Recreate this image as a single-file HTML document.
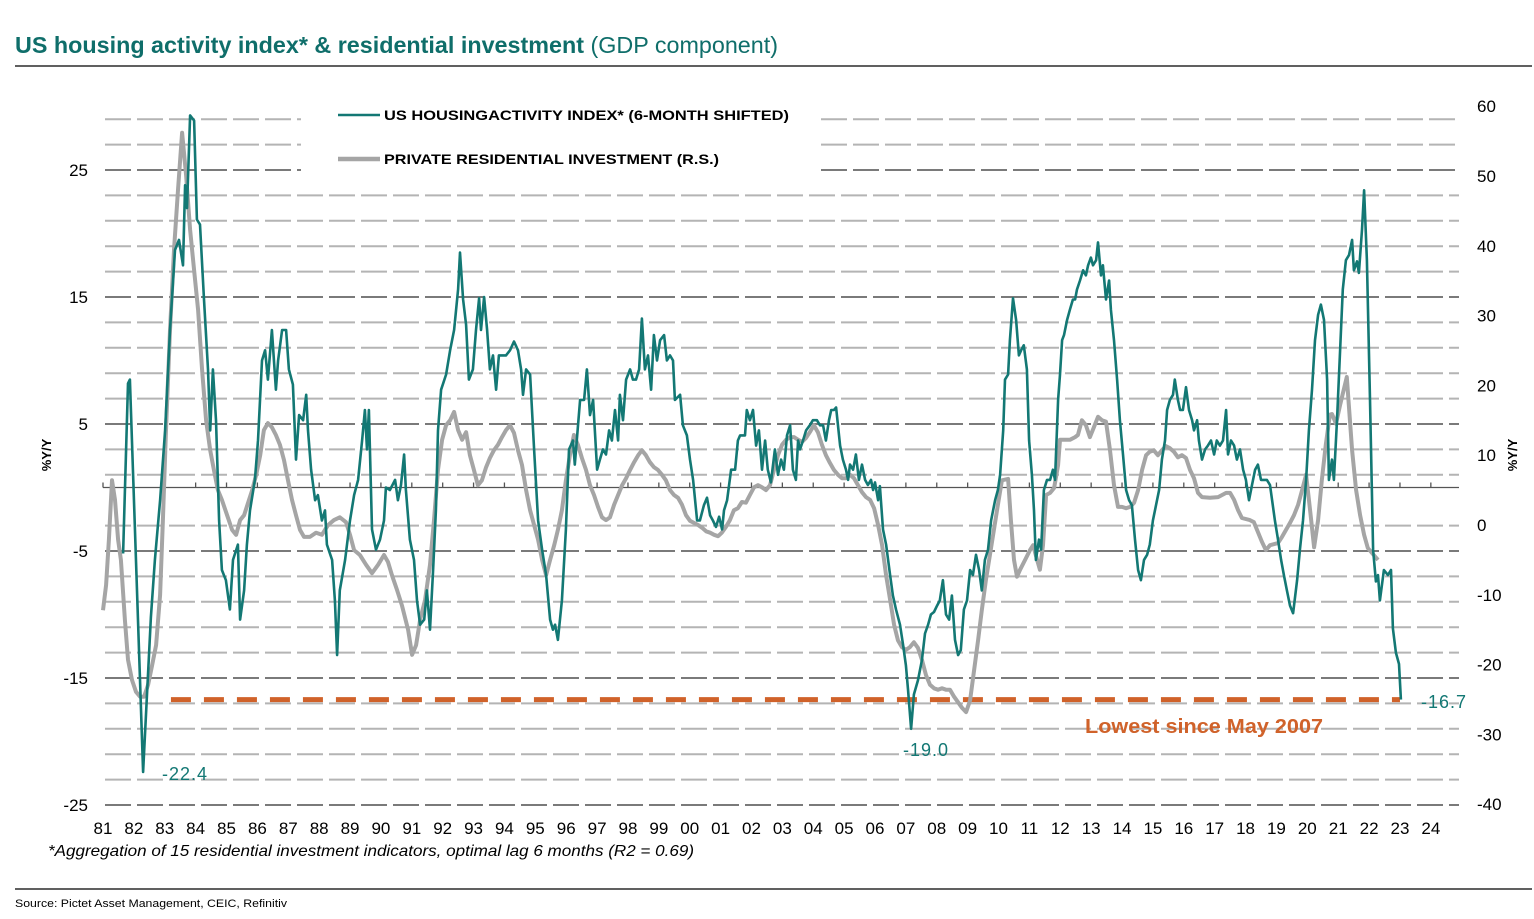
<!DOCTYPE html>
<html><head><meta charset="utf-8"><style>
html,body{margin:0;padding:0;background:#fff;}
svg{display:block;font-family:"Liberation Sans",sans-serif;}
</style></head><body>
<svg id="chart" width="1534" height="919" viewBox="0 0 1534 919" xmlns="http://www.w3.org/2000/svg">
<text x="15" y="53" font-size="23" fill="#0f6e6a" textLength="763" lengthAdjust="spacingAndGlyphs"><tspan font-weight="bold">US housing activity index* &amp; residential investment</tspan> (GDP component)</text>
<line x1="15" y1="66" x2="1532" y2="66" stroke="#000" stroke-width="1.2"/>
<g id="grid"></g>
<g id="axes"></g>
<g id="series"></g>
<g>
<line x1="338" y1="115" x2="380" y2="115" stroke="#137874" stroke-width="2.5"/>
<text x="384" y="120" font-size="14" font-weight="bold" fill="#000" textLength="405" lengthAdjust="spacingAndGlyphs">US HOUSINGACTIVITY INDEX* (6-MONTH SHIFTED)</text>
<line x1="338" y1="159" x2="380" y2="159" stroke="#a5a5a5" stroke-width="4.5"/>
<text x="384" y="164" font-size="14" font-weight="bold" fill="#000" textLength="335" lengthAdjust="spacingAndGlyphs">PRIVATE RESIDENTIAL INVESTMENT (R.S.)</text>
</g>
<text transform="translate(51,455) rotate(-90)" font-size="13" font-weight="bold" text-anchor="middle">%Y/Y</text>
<text transform="translate(1517,455) rotate(-90)" font-size="13" font-weight="bold" text-anchor="middle">%Y/Y</text>
<text x="162" y="780" font-size="18" fill="#137874" letter-spacing="1">-22.4</text>
<text x="903" y="756" font-size="18" fill="#137874" letter-spacing="1">-19.0</text>
<text x="1421" y="708" font-size="18" fill="#137874" letter-spacing="1">-16.7</text>
<text x="1085" y="733" font-size="20" font-weight="bold" fill="#d0622a" textLength="238" lengthAdjust="spacingAndGlyphs">Lowest since May 2007</text>
<text x="48" y="856" font-size="16" font-style="italic" fill="#000" textLength="646" lengthAdjust="spacingAndGlyphs">*Aggregation of 15 residential  investment indicators, optimal lag 6 months (R2 = 0.69)</text>
<line x1="15" y1="889" x2="1532" y2="889" stroke="#000" stroke-width="1.2"/>
<text x="15" y="907" font-size="11" fill="#000" textLength="272" lengthAdjust="spacingAndGlyphs">Source: Pictet Asset Management, CEIC, Refinitiv</text>
</svg>
<script>
// years are expressed as years since 1900 (e.g. 100.5 = mid-2000)
const yearTicks = [81,82,83,84,85,86,87,88,89,90,91,92,93,94,95,96,97,98,99,100,101,102,103,104,105,106,107,108,109,110,111,112,113,114,115,116,117,118,119,120,121,122,123,124];
const yearTickLabels = ["81","82","83","84","85","86","87","88","89","90","91","92","93","94","95","96","97","98","99","00","01","02","03","04","05","06","07","08","09","10","11","12","13","14","15","16","17","18","19","20","21","22","23","24"];
const leftTicks = [25,15,5,-5,-15,-25];
const rightTicks = [60,50,40,30,20,10,0,-10,-20,-30,-40];
const thresholdValue = -16.7;
const thresholdRange = [83.2, 123.0];
const housingYears = [81.65,81.81,81.87,82.30,82.55,82.68,82.85,83.01,83.17,83.33,83.46,83.59,83.66,83.72,83.82,83.95,84.04,84.14,84.27,84.40,84.47,84.56,84.66,84.76,84.85,84.98,85.11,85.21,85.37,85.44,85.57,85.66,85.76,85.92,86.02,86.15,86.25,86.34,86.47,86.60,86.67,86.80,86.93,87.02,87.15,87.25,87.35,87.48,87.58,87.64,87.74,87.87,87.96,88.09,88.19,88.25,88.42,88.51,88.58,88.67,88.84,89.00,89.13,89.26,89.39,89.48,89.55,89.61,89.71,89.84,89.97,90.10,90.16,90.29,90.46,90.55,90.65,90.75,90.81,90.94,91.07,91.17,91.27,91.40,91.49,91.59,91.69,91.78,91.85,91.95,92.11,92.24,92.37,92.50,92.56,92.66,92.76,92.85,92.98,93.08,93.18,93.24,93.34,93.44,93.53,93.63,93.73,93.82,93.95,94.05,94.18,94.31,94.44,94.54,94.60,94.70,94.83,94.96,95.09,95.22,95.35,95.48,95.57,95.64,95.73,95.86,95.99,96.09,96.22,96.28,96.45,96.58,96.67,96.77,96.87,97.00,97.09,97.19,97.29,97.39,97.48,97.58,97.68,97.74,97.84,97.94,98.07,98.16,98.26,98.36,98.45,98.55,98.65,98.75,98.84,98.94,99.04,99.17,99.26,99.36,99.46,99.52,99.69,99.78,99.91,100.01,100.11,100.24,100.33,100.46,100.56,100.66,100.75,100.85,100.95,101.05,101.11,101.21,101.34,101.47,101.56,101.63,101.79,101.85,101.95,102.05,102.15,102.24,102.34,102.44,102.53,102.63,102.76,102.86,102.96,103.05,103.15,103.25,103.34,103.44,103.51,103.57,103.67,103.77,103.89,103.99,104.12,104.22,104.32,104.41,104.51,104.58,104.67,104.74,104.87,104.96,105.06,105.13,105.19,105.29,105.38,105.48,105.58,105.68,105.77,105.87,105.94,106.00,106.10,106.16,106.26,106.36,106.49,106.58,106.68,106.81,106.91,107.00,107.07,107.17,107.26,107.39,107.52,107.62,107.72,107.81,107.91,108.01,108.10,108.20,108.30,108.40,108.49,108.59,108.69,108.78,108.88,108.98,109.08,109.17,109.27,109.37,109.46,109.56,109.66,109.76,109.89,109.98,110.05,110.15,110.21,110.31,110.37,110.47,110.57,110.66,110.73,110.82,110.92,110.99,111.08,111.15,111.21,111.31,111.38,111.47,111.57,111.67,111.76,111.83,111.93,111.99,112.06,112.12,112.22,112.31,112.41,112.48,112.54,112.64,112.74,112.83,112.90,112.99,113.06,113.16,113.22,113.32,113.38,113.48,113.58,113.64,113.74,113.84,113.93,114.03,114.13,114.23,114.32,114.42,114.52,114.61,114.71,114.81,114.90,115.00,115.10,115.20,115.29,115.39,115.46,115.55,115.65,115.71,115.81,115.88,115.97,116.07,116.17,116.27,116.33,116.43,116.49,116.59,116.69,116.78,116.88,116.98,117.07,117.17,117.27,117.37,117.43,117.53,117.63,117.72,117.82,117.92,118.01,118.11,118.21,118.31,118.40,118.50,118.60,118.69,118.79,118.86,118.95,119.05,119.15,119.24,119.34,119.44,119.54,119.67,119.76,119.86,119.96,120.05,120.15,120.25,120.35,120.44,120.54,120.64,120.70,120.80,120.86,120.96,121.06,121.15,121.25,121.35,121.45,121.51,121.61,121.67,121.77,121.84,121.93,122.03,122.13,122.22,122.29,122.35,122.48,122.61,122.71,122.77,122.87,122.97,123.03];
const housingValues = [-5.2,8.2,8.5,-22.4,-10.2,-5.7,-1.0,4.5,12.4,18.7,19.5,17.5,23.8,22.0,29.3,28.9,21.1,20.7,14.8,9.3,4.5,9.3,5.3,-2.6,-6.5,-7.3,-9.6,-5.7,-4.5,-10.4,-8.1,-4.5,-1.8,0.6,3.7,10.0,10.8,8.5,12.4,7.7,10.0,12.4,12.4,9.3,8.1,2.2,5.7,5.3,7.3,4.5,1.4,-1.0,-0.6,-2.6,-1.8,-4.5,-5.7,-8.9,-13.2,-8.1,-5.7,-2.6,-0.6,0.6,3.7,6.1,3.0,6.1,-3.3,-4.9,-4.1,-2.6,0.0,-0.2,0.6,-1.0,0.2,2.6,-0.2,-4.1,-5.7,-8.9,-10.8,-10.4,-8.1,-11.2,-6.5,-1.8,4.5,7.7,8.9,10.8,12.4,15.6,18.5,14.8,12.8,8.5,9.3,12.4,14.9,12.4,15.0,12.4,9.3,10.4,7.7,10.4,10.4,10.4,10.8,11.5,10.8,9.3,7.3,9.3,8.9,3.0,-2.6,-4.9,-6.9,-10.4,-11.2,-10.8,-12.0,-8.9,-3.3,3.0,3.7,1.8,6.9,6.9,9.3,5.7,6.9,1.4,2.2,3.0,2.6,4.5,3.7,6.1,3.7,7.3,5.3,8.5,9.3,8.5,8.5,9.3,13.3,9.3,10.4,7.7,12.0,10.0,11.6,12.0,10.0,10.4,10.0,6.9,7.3,4.9,4.1,2.2,0.6,-2.6,-2.6,-1.4,-0.8,-2.2,-2.6,-3.1,-2.3,-3.3,-1.8,-1.0,1.4,1.4,3.7,4.1,4.1,6.1,5.3,6.1,3.3,4.5,1.4,3.7,1.4,0.4,3.0,1.0,2.2,1.4,4.1,4.9,1.4,0.6,3.7,3.0,3.7,4.5,4.9,5.3,5.3,4.9,4.9,3.7,5.3,6.1,6.1,6.3,3.3,2.2,1.4,0.6,1.8,1.4,2.6,0.6,1.8,0.6,0.2,0.6,-0.2,0.4,-1.0,0.1,-3.3,-4.5,-6.9,-8.5,-9.6,-10.8,-12.4,-14.0,-15.9,-19.0,-16.3,-15.2,-13.6,-11.5,-10.8,-10.0,-9.8,-9.3,-8.9,-7.3,-10.0,-10.4,-8.5,-12.0,-13.2,-12.8,-9.6,-8.9,-6.5,-6.9,-5.3,-6.5,-8.1,-5.7,-4.9,-2.6,-1.0,-0.2,1.0,4.5,8.5,8.9,11.6,14.9,13.2,10.4,10.8,11.2,9.3,3.7,1.0,-1.8,-5.7,-4.1,-4.9,-0.2,0.6,0.6,1.4,0.6,6.9,8.9,11.6,12.0,13.2,14.0,14.8,14.8,15.6,16.3,17.1,16.7,17.5,18.1,17.5,17.9,19.3,16.7,17.5,14.8,16.3,14.0,11.6,8.5,5.3,2.6,-0.2,-1.0,-1.4,-4.1,-6.5,-7.3,-5.7,-5.3,-4.5,-2.6,-1.4,-0.2,2.2,3.7,6.1,6.9,7.3,8.5,6.9,6.1,6.1,7.9,6.1,5.3,4.5,5.3,3.7,2.2,3.0,3.3,3.7,2.6,3.7,3.3,3.7,6.1,2.6,3.7,3.3,2.2,3.0,1.4,0.6,-1.0,0.2,1.4,1.8,0.6,0.6,0.6,0.2,-1.0,-2.6,-4.1,-5.7,-6.9,-8.1,-9.3,-9.9,-7.3,-4.9,-2.6,0.6,4.5,7.7,11.6,13.6,14.4,13.2,8.5,0.6,2.2,0.6,5.3,10.8,15.6,17.9,18.3,19.5,17.1,17.8,16.9,20.3,23.4,17.9,6.9,-4.9,-7.4,-6.9,-8.9,-6.5,-6.9,-6.5,-11.1,-13.0,-13.9,-16.7];
const investYears = [81.00,81.10,81.19,81.29,81.39,81.49,81.58,81.71,81.81,81.94,82.07,82.20,82.33,82.46,82.59,82.72,82.85,82.94,83.04,83.17,83.30,83.43,83.56,83.69,83.82,83.95,84.08,84.21,84.34,84.47,84.59,84.72,84.85,85.02,85.18,85.31,85.44,85.57,85.70,85.83,85.96,86.09,86.21,86.34,86.47,86.60,86.73,86.86,86.99,87.12,87.25,87.38,87.51,87.70,87.90,88.09,88.29,88.48,88.67,88.87,89.00,89.13,89.32,89.52,89.71,89.91,90.10,90.23,90.36,90.52,90.68,90.88,91.01,91.14,91.27,91.43,91.59,91.72,91.85,91.98,92.11,92.24,92.37,92.50,92.63,92.76,92.88,93.01,93.14,93.27,93.40,93.53,93.66,93.79,93.92,94.05,94.18,94.31,94.44,94.57,94.70,94.83,94.96,95.09,95.22,95.35,95.48,95.61,95.73,95.86,95.99,96.12,96.25,96.38,96.51,96.64,96.77,96.90,97.03,97.16,97.29,97.42,97.55,97.68,97.81,97.94,98.07,98.20,98.33,98.45,98.58,98.71,98.84,98.97,99.10,99.23,99.36,99.49,99.62,99.75,99.88,100.01,100.14,100.27,100.40,100.53,100.66,100.79,100.92,101.04,101.17,101.30,101.43,101.56,101.69,101.82,101.95,102.08,102.21,102.34,102.47,102.60,102.73,102.86,102.99,103.12,103.25,103.38,103.51,103.64,103.77,103.89,104.02,104.15,104.28,104.41,104.54,104.67,104.80,104.93,105.06,105.19,105.32,105.45,105.58,105.71,105.84,105.97,106.10,106.23,106.36,106.49,106.62,106.74,106.87,107.00,107.13,107.26,107.39,107.52,107.65,107.78,107.91,108.04,108.17,108.30,108.43,108.56,108.69,108.82,108.95,109.08,109.21,109.34,109.46,109.59,109.72,109.85,109.98,110.11,110.31,110.40,110.50,110.60,110.70,110.86,111.02,111.12,111.25,111.34,111.44,111.54,111.67,111.80,111.93,111.99,112.15,112.31,112.48,112.57,112.70,112.83,112.96,113.09,113.22,113.35,113.48,113.61,113.74,113.87,114.00,114.13,114.26,114.39,114.52,114.65,114.78,114.90,115.03,115.16,115.29,115.42,115.55,115.68,115.81,115.94,116.07,116.20,116.33,116.46,116.59,116.85,117.11,117.37,117.50,117.63,117.76,117.88,118.14,118.27,118.40,118.53,118.66,118.79,119.05,119.18,119.31,119.44,119.57,119.70,119.83,119.96,120.09,120.22,120.35,120.47,120.60,120.73,120.80,120.93,121.06,121.28,121.45,121.58,121.71,121.84,121.96,122.09,122.29];
const investValues = [-12.2,-8.6,-2.1,6.4,3.6,-2.1,-5.0,-13.6,-19.3,-22.2,-23.9,-24.6,-24.6,-22.9,-20.1,-17.2,-10.0,0.7,13.6,27.9,39.4,48.0,56.2,50.1,42.3,36.5,30.8,22.2,15.0,10.7,7.9,5.0,3.6,1.4,-0.7,-1.4,0.7,1.4,3.2,5.0,7.2,10.0,13.6,14.6,14.0,12.9,11.5,9.3,6.4,3.6,1.4,-0.7,-1.7,-1.7,-1.1,-1.4,0.0,0.7,1.1,0.4,-1.4,-3.6,-4.3,-5.7,-6.9,-5.7,-4.3,-5.3,-7.2,-9.3,-11.5,-15.0,-18.6,-17.2,-13.6,-10.7,-5.7,0.7,7.9,12.2,14.3,15.0,16.2,13.6,12.2,13.3,10.0,7.9,5.7,6.4,8.2,9.6,10.7,11.5,12.6,13.6,14.3,13.2,10.7,8.6,5.0,2.1,0.0,-2.1,-5.0,-7.2,-5.0,-2.9,-0.7,2.1,6.4,10.0,12.9,11.5,9.6,7.9,5.7,4.3,2.6,1.1,0.7,1.1,2.9,4.3,5.7,6.7,7.9,9.0,10.0,10.7,10.0,9.0,8.3,7.9,7.2,6.4,5.0,4.3,3.9,2.9,1.4,0.6,0.3,0.0,-0.4,-0.9,-1.1,-1.4,-1.6,-1.1,-0.3,0.7,2.1,2.4,3.3,3.2,4.3,5.4,5.7,5.4,5.0,5.7,7.9,10.0,11.5,12.2,12.6,12.6,12.2,11.9,12.5,13.3,14.3,13.3,11.5,10.0,8.9,7.9,7.2,6.7,6.7,7.2,6.7,5.7,4.7,4.0,3.6,2.4,0.0,-2.9,-7.2,-10.7,-14.3,-16.5,-17.5,-17.9,-17.5,-16.8,-17.6,-19.3,-21.5,-22.9,-23.4,-23.6,-23.4,-23.6,-23.6,-24.6,-25.4,-26.2,-26.8,-25.1,-20.8,-16.5,-12.2,-7.9,-4.3,-0.7,2.9,6.4,6.6,0.7,-5.0,-7.4,-6.4,-5.0,-3.6,-2.9,-5.0,-6.4,-2.9,4.3,4.6,5.3,8.6,12.2,12.2,12.2,12.6,12.9,15.0,14.3,12.6,14.0,15.5,15.0,14.8,10.7,5.7,2.6,2.6,2.4,2.6,3.2,5.0,7.9,10.0,10.5,10.7,10.0,10.7,11.3,11.0,10.5,9.7,10.0,9.6,7.9,6.7,4.6,4.0,3.9,4.0,4.6,4.6,3.6,2.1,1.0,0.7,0.4,-1.0,-2.4,-3.6,-2.9,-2.6,-1.7,-0.7,0.3,1.4,2.9,5.0,7.2,2.1,-3.2,0.7,6.4,11.5,15.8,15.9,14.5,17.2,21.2,10.7,5.0,1.4,-1.4,-3.3,-4.0,-5.0];

const NS = 'http://www.w3.org/2000/svg';
const X0 = 103, PXY = 30.88;
function xs(yr){ return X0 + (yr - 81) * PXY; }
function yl(v){ return 487.5 - v * 12.7; }
function yr(v){ return 525 - v * 6.98; }
function mk(tag, attrs, parent){ const e = document.createElementNS(NS, tag); for (const k in attrs) e.setAttribute(k, attrs[k]); parent.appendChild(e); return e; }

const grid = document.getElementById('grid');
for (let v = 29; v >= -25; v -= 2) {
  if (v === -1) continue;
  const dark = leftTicks.indexOf(v) >= 0;
  const col = dark ? '#7a7a7a' : '#b4b4b4';
  const y = yl(v);
  if (v >= 25) {
    const a = mk('line', {x1:105, y1:y, x2:301, y2:y, stroke:col, 'stroke-width':2, 'stroke-dasharray':'26 6'}, grid);
    
    
    const b = mk('line', {x1:821, y1:y, x2:1459, y2:y, stroke:col, 'stroke-width':2, 'stroke-dasharray':'26 6'}, grid);
    
    
  } else {
    const l = mk('line', {x1:105, y1:y, x2:1459, y2:y, stroke:col, 'stroke-width':2, 'stroke-dasharray':'26 6'}, grid);
    
    
  }
}
const axes = document.getElementById('axes');
const zl = mk('line', {x1:103, y1:yl(0), x2:1459, y2:yl(0), stroke:'#555', 'stroke-width':1.3}, axes);


yearTicks.forEach((t, i) => {
  const tk = mk('line', {x1:xs(t), y1:yl(0), x2:xs(t), y2:yl(0)-5, stroke:'#555', 'stroke-width':1.3}, axes);
  
  
  const lb = mk('text', {x:xs(t), y:834, 'font-size':17, 'text-anchor':'middle', fill:'#000'}, axes);
  
  
  lb.textContent = yearTickLabels[i];
});
leftTicks.forEach(v => {
  const lb = mk('text', {x:88, y:yl(v)+6, 'font-size':17, 'text-anchor':'end', fill:'#000'}, axes);
  
  
  lb.textContent = String(v);
});
rightTicks.forEach(v => {
  const lb = mk('text', {x:1477, y:yr(v)+6, 'font-size':17, fill:'#000'}, axes);
  
  
  lb.textContent = String(v);
});
const series = document.getElementById('series');
const th = mk('line', {x1:xs(thresholdRange[0]), y1:yl(thresholdValue), x2:xs(thresholdRange[1]), y2:yl(thresholdValue), stroke:'#d0622a', 'stroke-width':5, 'stroke-dasharray':'20 13'}, series);


const gp = mk('polyline', {points: investYears.map((t,i)=>xs(t).toFixed(1)+','+yr(investValues[i]).toFixed(1)).join(' '), fill:'none', stroke:'#a5a5a5', 'stroke-width':4, 'stroke-linejoin':'round'}, series);


const tp = mk('polyline', {points: housingYears.map((t,i)=>xs(t).toFixed(1)+','+yl(housingValues[i]).toFixed(1)).join(' '), fill:'none', stroke:'#137874', 'stroke-width':2.6, 'stroke-linejoin':'round'}, series);


</script>
</body></html>
